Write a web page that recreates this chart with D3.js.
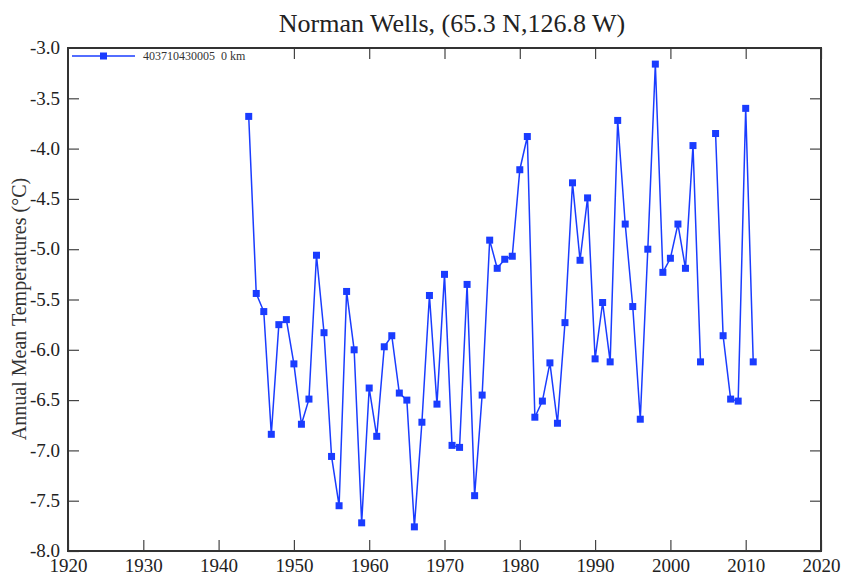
<!DOCTYPE html>
<html>
<head>
<meta charset="utf-8">
<script src="https://cdn.jsdelivr.net/npm/d3@7"></script>
<style>
  body { margin: 0; background: #fff; }
  svg { display: block; font-family: "Liberation Serif", "Times New Roman", serif; }
</style>
</head>
<body>
<div id="chart"></div>
<script>
// station series, annual means (degrees C); null = missing year
var years = d3.range(1944, 2012);
var temps = [
  -3.68, -5.44, -5.62, -6.84, -5.75, -5.70, -6.14, -6.74, -6.49, -5.06,
  -5.83, -7.06, -7.55, -5.42, -6.00, -7.72, -6.38, -6.86, -5.97, -5.86,
  -6.43, -6.50, -7.76, -6.72, -5.46, -6.54, -5.25, -6.95, -6.97, -5.35,
  -7.45, -6.45, -4.91, -5.19, -5.10, -5.07, -4.21, -3.88, -6.67, -6.51,
  -6.13, -6.73, -5.73, -4.34, -5.11, -4.49, -6.09, -5.53, -6.12, -3.72,
  -4.75, -5.57, -6.69, -5.00, -3.16, -5.23, -5.09, -4.75, -5.19, -3.97,
  -6.12, null, -3.85, -5.86, -6.49, -6.51, -3.60, -6.12
];
var xTicks = d3.range(1920, 2021, 10);
var yTicks = d3.range(-8, -2.99, 0.5);

var width = 849, height = 579;
var margin = {top: 48, right: 28, bottom: 28, left: 68};

var svg = d3.select('#chart').append('svg')
  .attr('width', width)
  .attr('height', height);

var x = d3.scaleLinear().domain([1920, 2020]).range([margin.left, width - margin.right]);
var y = d3.scaleLinear().domain([-8, -3]).range([height - margin.bottom, margin.top]);

var data = years.map(function(yr, i) { return {year: yr, value: temps[i]}; });

//title
svg.append('text')
  .attr('x', 452)
  .attr('y', 32)
  .attr('text-anchor', 'middle')
  .style('font-size', '26px')
  .style('fill', '#222')
  .text('Norman Wells, (65.3 N,126.8 W)');

//y axis label
svg.append('text')
  .attr('transform', 'translate(26,' + 309 + ') rotate(-90)')
  .attr('text-anchor', 'middle')
  .style('font-size', '20px')
  .style('fill', '#333')
  .text('Annual Mean Temperatures (°C)');

//axes with inward ticks on all four sides
var tickLen = 11;
var fmtY = function(d) { return d.toFixed(1); };
var axBottom = svg.append('g').attr('transform', 'translate(0,' + y(-8) + ')')
  .call(d3.axisBottom(x).tickValues(xTicks).tickSize(-tickLen).tickPadding(8).tickFormat(d3.format('d')));
var axTop = svg.append('g').attr('transform', 'translate(0,' + y(-3) + ')')
  .call(d3.axisTop(x).tickValues(xTicks).tickSize(-tickLen).tickFormat(''));
var axLeft = svg.append('g').attr('transform', 'translate(' + x(1920) + ',0)')
  .call(d3.axisLeft(y).tickValues(yTicks).tickSize(-tickLen).tickPadding(8).tickFormat(fmtY));
var axRight = svg.append('g').attr('transform', 'translate(' + x(2020) + ',0)')
  .call(d3.axisRight(y).tickValues(yTicks).tickSize(-tickLen).tickFormat(''));

[axBottom, axTop, axLeft, axRight].forEach(function(g) {
  g.select('.domain').remove();
  g.selectAll('.tick line').style('stroke', '#444').style('stroke-width', 1.2);
  g.selectAll('.tick text')
    .style('font-family', '"Liberation Serif", serif')
    .style('font-size', '19px')
    .style('fill', '#222');
});
axLeft.selectAll('.tick text').attr('dy', '0.3em');

var blue = '#1a3cff';

//series line
var line = d3.line()
  .defined(function(d) { return d.value !== null; })
  .x(function(d) { return x(d.year); })
  .y(function(d) { return y(d.value); });

svg.append('path')
  .datum(data)
  .attr('d', line)
  .style('fill', 'none')
  .style('stroke', blue)
  .style('stroke-width', 1.5);

svg.selectAll('rect.pt')
  .data(data.filter(function(d) { return d.value !== null; }))
  .enter().append('rect')
  .attr('class', 'pt')
  .attr('x', function(d) { return x(d.year) - 3.5; })
  .attr('y', function(d) { return y(d.value) - 3.5; })
  .attr('width', 7)
  .attr('height', 7)
  .style('fill', blue);

//legend (white backing hides the top ticks behind it)
var legend = svg.append('g').attr('transform', 'translate(72,56)');
legend.append('rect')
  .attr('x', -3).attr('y', -8)
  .attr('width', 190).attr('height', 17)
  .style('fill', '#fff');
legend.append('line')
  .attr('x1', 0).attr('x2', 63)
  .style('stroke', blue)
  .style('stroke-width', 1.5);
legend.append('rect')
  .attr('x', 28).attr('y', -3.5)
  .attr('width', 7).attr('height', 7)
  .style('fill', blue);
legend.append('text')
  .attr('x', 71)
  .attr('y', 4)
  .style('font-size', '12px')
  .style('fill', '#333')
  .text('403710430005\u00a0\u00a00 km');

//frame
svg.append('rect')
  .attr('x', x(1920))
  .attr('y', y(-3))
  .attr('width', x(2020) - x(1920))
  .attr('height', y(-8) - y(-3))
  .style('fill', 'none')
  .style('stroke', '#333')
  .style('stroke-width', 2);
</script>
</body>
</html>
